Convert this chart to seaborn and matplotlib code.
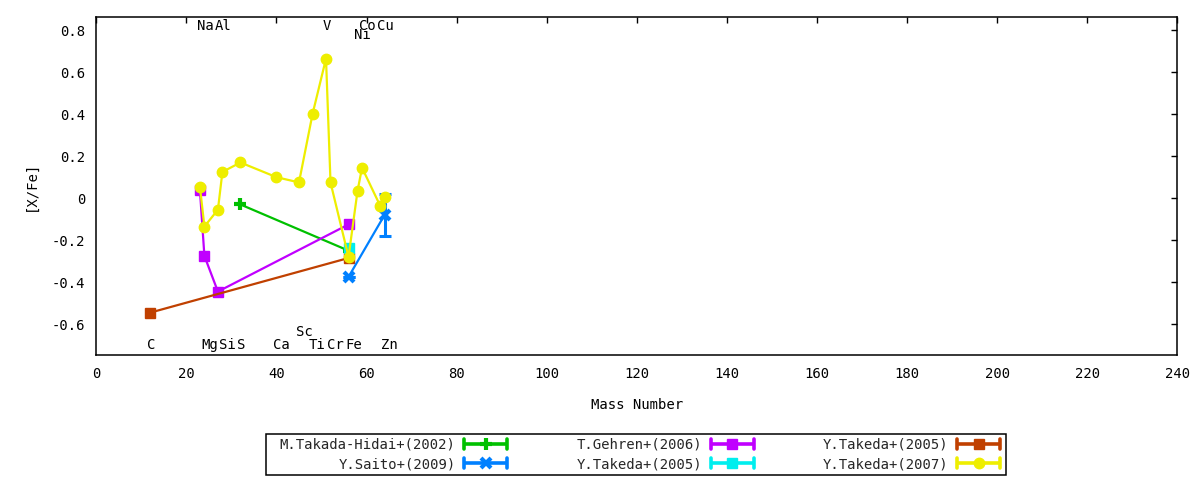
import matplotlib
matplotlib.use('Agg')
import matplotlib.pyplot as plt
import seaborn as sns
import pandas as pd
from matplotlib.lines import Line2D
from matplotlib.legend_handler import HandlerBase
from matplotlib.patches import Rectangle
from matplotlib.ticker import FuncFormatter

# ---------------- data ----------------
takada_hidai_mass = [32, 56]
takada_hidai_xfe = [-0.03, -0.25]

saito_mass = [56, 64]
saito_xfe = [-0.375, -0.08]
saito_err = [0.0, 0.10]

gehren_mass = [23, 24, 27, 56]
gehren_xfe = [0.04, -0.275, -0.445, -0.125]

takeda05a_mass = [56]
takeda05a_xfe = [-0.235]

takeda05b_mass = [12, 56]
takeda05b_xfe = [-0.545, -0.285]

takeda07_mass = [23, 24, 27, 28, 32, 40, 45, 48, 51, 52, 56, 58, 59, 63, 64]
takeda07_xfe = [0.055, -0.135, -0.055, 0.125, 0.17, 0.10, 0.075, 0.40, 0.665,
                0.075, -0.28, 0.035, 0.145, -0.035, 0.005]

series_labels = ["M.Takada-Hidai+(2002)", "Y.Saito+(2009)", "T.Gehren+(2006)",
                 "Y.Takeda+(2005)", "Y.Takeda+(2005)", "Y.Takeda+(2007)"]

top_elements = ["Na", "Al", "V", "Co", "Ni", "Cu"]
top_masses = [23, 27, 51, 59, 58, 63]
bottom_elements = ["C", "Mg", "Si", "S", "Ca", "Sc", "Ti", "Cr", "Fe", "Zn"]
bottom_masses = [12, 24, 28, 32, 40, 45, 48, 52, 56, 64]

x_ticks = list(range(0, 241, 20))
y_ticks = [-0.6, -0.4, -0.2, 0, 0.2, 0.4, 0.6, 0.8]

# ---------------- style ----------------
sns.set_theme(style="white")
plt.rcParams['font.family'] = ['DejaVu Sans Mono']
plt.rcParams['axes.unicode_minus'] = False
FS = 10

fig = plt.figure(figsize=(12, 4.8), dpi=100)
W, H = 1200, 480
ax = fig.add_axes([96.3 / W, 1 - 355 / H, 1081 / W, 338 / H])

series = [
    # mass, value, color, marker, ms, mew
    (takada_hidai_mass, takada_hidai_xfe, "#00c000", "+", 8, 3.0),
    (gehren_mass, gehren_xfe, "#c000ff", "s", 7, 1.0),
    (takeda05b_mass, takeda05b_xfe, "#c04000", "s", 7, 1.0),
    (saito_mass, saito_xfe, "#0080ff", "x", 7, 3.0),
    (takeda05a_mass, takeda05a_xfe, "#00eeee", "s", 7, 1.0),
    (takeda07_mass, takeda07_xfe, "#eeee00", "o", 7.5, 1.0),
]

for m, v, c, mk, ms, mew in series:
    df = pd.DataFrame({"mass": m, "xfe": v})
    sns.lineplot(data=df, x="mass", y="xfe", ax=ax, color=c, lw=1.6,
                 marker=mk, markersize=ms, markeredgecolor=c,
                 markerfacecolor=c, markeredgewidth=mew, sort=False,
                 errorbar=None, legend=False)
    if c == "#0080ff":
        ax.errorbar(saito_mass, saito_xfe, yerr=saito_err, fmt="none",
                    ecolor=c, elinewidth=2.2, capsize=4, capthick=2.2)

ax.set_xlim(0, 240)
ax.set_ylim(-0.747, 0.863)
ax.set_xticks(x_ticks)
ax.set_yticks(y_ticks)
ax.yaxis.set_major_formatter(FuncFormatter(lambda v, p: f"{v:g}" if abs(v) > 1e-9 else "0"))
ax.tick_params(direction="in", length=4, width=1, top=True, right=True,
               labelsize=FS, colors="black")
ax.tick_params(axis="x", pad=9)
ax.tick_params(axis="y", pad=8)
for sp in ax.spines.values():
    sp.set_color("black")
    sp.set_linewidth(1.1)
ax.grid(False)

ax.set_xlabel("Mass Number", fontsize=FS, color="black")
ax.set_ylabel("[X/Fe]", fontsize=FS, color="black")
ax.xaxis.set_label_coords(0.5, (355 - 405) / 338)
ax.xaxis.label.set_va("center")
ax.yaxis.set_label_coords((31 - 96.3) / 1081, 0.5)
ax.yaxis.label.set_va("center")

# element labels
for el, m in zip(top_elements, top_masses):
    yv = 0.775 if el == "Ni" else 0.82
    ax.text(m - 0.75, yv, el, ha="left", va="center", fontsize=FS, color="black")
for el, m in zip(bottom_elements, bottom_masses):
    yv = -0.637 if el == "Sc" else -0.70
    ax.text(m - 0.75, yv, el, ha="left", va="center", fontsize=FS, color="black")


# ---------------- legend ----------------
class GnuErrHandler(HandlerBase):
    def create_artists(self, legend, orig, xdescent, ydescent, width, height,
                       fontsize, trans):
        c = orig.get_color()
        x0, x1 = -xdescent, width - xdescent
        yc = height / 2 - ydescent
        cap = 3.6
        arts = [
            Line2D([x0, x1], [yc, yc], color=c, lw=2.6, solid_capstyle="butt"),
            Line2D([x0, x0], [yc - cap, yc + cap], color=c, lw=2.6),
            Line2D([x1, x1], [yc - cap, yc + cap], color=c, lw=2.6),
            Line2D([(x0 + x1) / 2], [yc], marker=orig.get_marker(),
                   ms=orig.get_markersize(), mec=c, mfc=c,
                   mew=orig.get_markeredgewidth(), linestyle="none"),
        ]
        for a in arts:
            a.set_transform(trans)
        return arts


style_by_color = {s[2]: s for s in series}
legend_colors = ["#00c000", "#0080ff", "#c000ff", "#00eeee", "#c04000", "#eeee00"]
handles = []
for c in legend_colors:
    _, _, _, mk, ms, mew = style_by_color[c]
    handles.append(Line2D([], [], color=c, marker=mk, markersize=ms, mew=mew))

leg = fig.legend(handles, series_labels, ncol=3, loc="upper right",
                 bbox_to_anchor=(1007 / W, 1 - 431 / H),
                 bbox_transform=fig.transFigure, frameon=False,
                 markerfirst=False, borderpad=0, handlelength=3.1,
                 handletextpad=0.6, columnspacing=5.0, labelspacing=0.38,
                 handler_map={Line2D: GnuErrHandler()}, prop={"size": FS})

fig.patches.append(Rectangle((266 / W, 1 - 475 / H), 740 / W, 41 / H,
                             transform=fig.transFigure, fill=False,
                             ec="black", lw=1.1))

fig.savefig("out.png", dpi=100, facecolor="white")
